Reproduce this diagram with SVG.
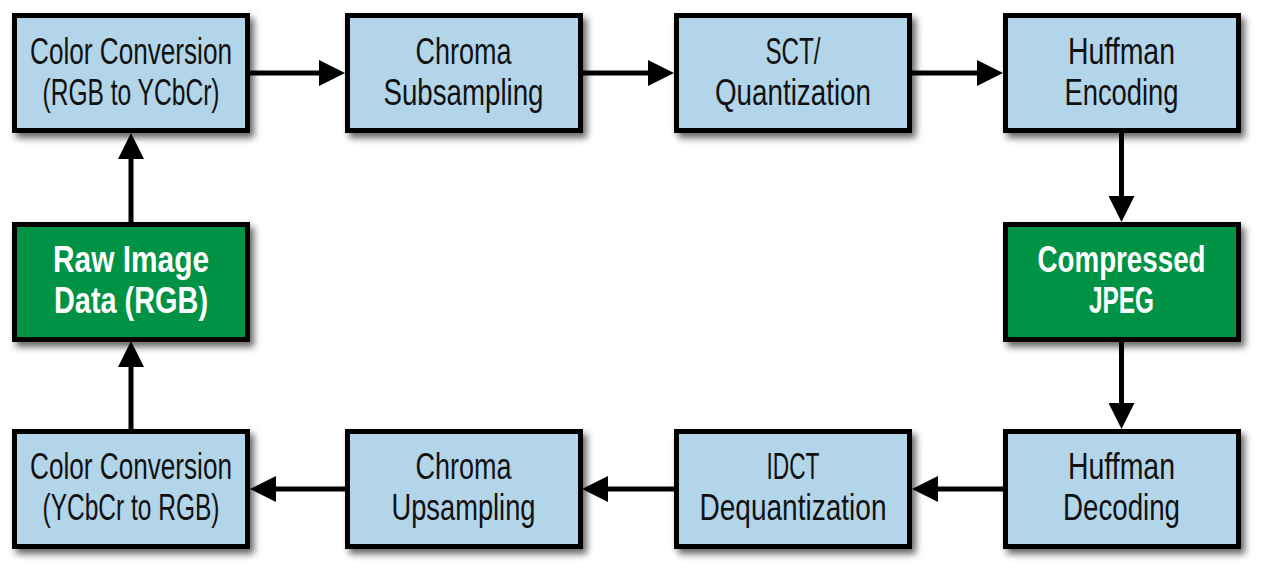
<svg xmlns="http://www.w3.org/2000/svg" width="1267" height="577" viewBox="0 0 1267 577">
<defs>
<style>
.box{stroke:#000;stroke-width:5;filter:url(#sh)}
.blue{fill:#b3d5ea}
.green{fill:#009245}
.t{font-family:"Liberation Sans Narrow","Liberation Sans",Arial,sans-serif;font-size:36px;text-anchor:middle;fill:#111}
.b{font-weight:bold;fill:#fff}
.c{stroke:#000;stroke-width:5;fill:none;marker-end:url(#ah)}
</style>
<filter id="sh" x="-10%" y="-10%" width="125%" height="130%">
<feDropShadow dx="4" dy="5" stdDeviation="3.5" flood-color="#000" flood-opacity="0.6"/>
</filter>
<marker id="ah" markerUnits="userSpaceOnUse" markerWidth="26" markerHeight="26" viewBox="0 0 26 26" refX="16" refY="13" orient="auto">
<path d="M0,0 L26,13 L0,26 z" fill="#000"/>
</marker>
</defs>
<g id="connectors">
<line class="c" x1="250" y1="73" x2="335" y2="73"/>
<line class="c" x1="582" y1="73" x2="664" y2="73"/>
<line class="c" x1="912" y1="73" x2="993" y2="73"/>
<line class="c" x1="1121.5" y1="133" x2="1121.5" y2="212"/>
<line class="c" x1="1121.5" y1="341" x2="1121.5" y2="419"/>
<line class="c" x1="1003" y1="489" x2="922" y2="489"/>
<line class="c" x1="674" y1="489" x2="592" y2="489"/>
<line class="c" x1="345" y1="489" x2="260" y2="489"/>
<line class="c" x1="131" y1="429" x2="131" y2="351"/>
<line class="c" x1="131" y1="222" x2="131" y2="143"/>
</g>
<g id="color-conversion-rgb-ycbcr">
<rect class="box blue" x="14.5" y="15.5" width="233" height="115"/>
<text class="t" x="131" y="64" textLength="202" lengthAdjust="spacingAndGlyphs">Color Conversion</text>
<text class="t" x="131" y="105" textLength="177" lengthAdjust="spacingAndGlyphs">(RGB to YCbCr)</text>
</g>
<g id="chroma-subsampling">
<rect class="box blue" x="347.5" y="15.5" width="233" height="115"/>
<text class="t" x="463.5" y="64" textLength="96" lengthAdjust="spacingAndGlyphs">Chroma</text>
<text class="t" x="463.5" y="105" textLength="160" lengthAdjust="spacingAndGlyphs">Subsampling</text>
</g>
<g id="sct-quantization">
<rect class="box blue" x="676.5" y="15.5" width="233" height="115"/>
<text class="t" x="793" y="64" textLength="55" lengthAdjust="spacingAndGlyphs">SCT/</text>
<text class="t" x="793" y="105" textLength="156" lengthAdjust="spacingAndGlyphs">Quantization</text>
</g>
<g id="huffman-encoding">
<rect class="box blue" x="1005.5" y="15.5" width="233" height="115"/>
<text class="t" x="1121.5" y="64" textLength="107" lengthAdjust="spacingAndGlyphs">Huffman</text>
<text class="t" x="1121.5" y="105" textLength="114" lengthAdjust="spacingAndGlyphs">Encoding</text>
</g>
<g id="raw-image-data">
<rect class="box green" x="14.5" y="224.5" width="233" height="115"/>
<text class="t b" x="131" y="272" textLength="156" lengthAdjust="spacingAndGlyphs">Raw Image</text>
<text class="t b" x="131" y="313" textLength="154" lengthAdjust="spacingAndGlyphs">Data (RGB)</text>
</g>
<g id="compressed-jpeg">
<rect class="box green" x="1005.5" y="224.5" width="233" height="115"/>
<text class="t b" x="1121.5" y="272" textLength="168" lengthAdjust="spacingAndGlyphs">Compressed</text>
<text class="t b" x="1121.5" y="313" textLength="65" lengthAdjust="spacingAndGlyphs">JPEG</text>
</g>
<g id="color-conversion-ycbcr-rgb">
<rect class="box blue" x="14.5" y="431.5" width="233" height="115"/>
<text class="t" x="131" y="479" textLength="202" lengthAdjust="spacingAndGlyphs">Color Conversion</text>
<text class="t" x="131" y="520" textLength="177" lengthAdjust="spacingAndGlyphs">(YCbCr to RGB)</text>
</g>
<g id="chroma-upsampling">
<rect class="box blue" x="347.5" y="431.5" width="233" height="115"/>
<text class="t" x="463.5" y="479" textLength="96" lengthAdjust="spacingAndGlyphs">Chroma</text>
<text class="t" x="463.5" y="520" textLength="144" lengthAdjust="spacingAndGlyphs">Upsampling</text>
</g>
<g id="idct-dequantization">
<rect class="box blue" x="676.5" y="431.5" width="233" height="115"/>
<text class="t" x="793" y="479" textLength="53" lengthAdjust="spacingAndGlyphs">IDCT</text>
<text class="t" x="793" y="520" textLength="187" lengthAdjust="spacingAndGlyphs">Dequantization</text>
</g>
<g id="huffman-decoding">
<rect class="box blue" x="1005.5" y="431.5" width="233" height="115"/>
<text class="t" x="1121.5" y="479" textLength="107" lengthAdjust="spacingAndGlyphs">Huffman</text>
<text class="t" x="1121.5" y="520" textLength="117" lengthAdjust="spacingAndGlyphs">Decoding</text>
</g>
</svg>
